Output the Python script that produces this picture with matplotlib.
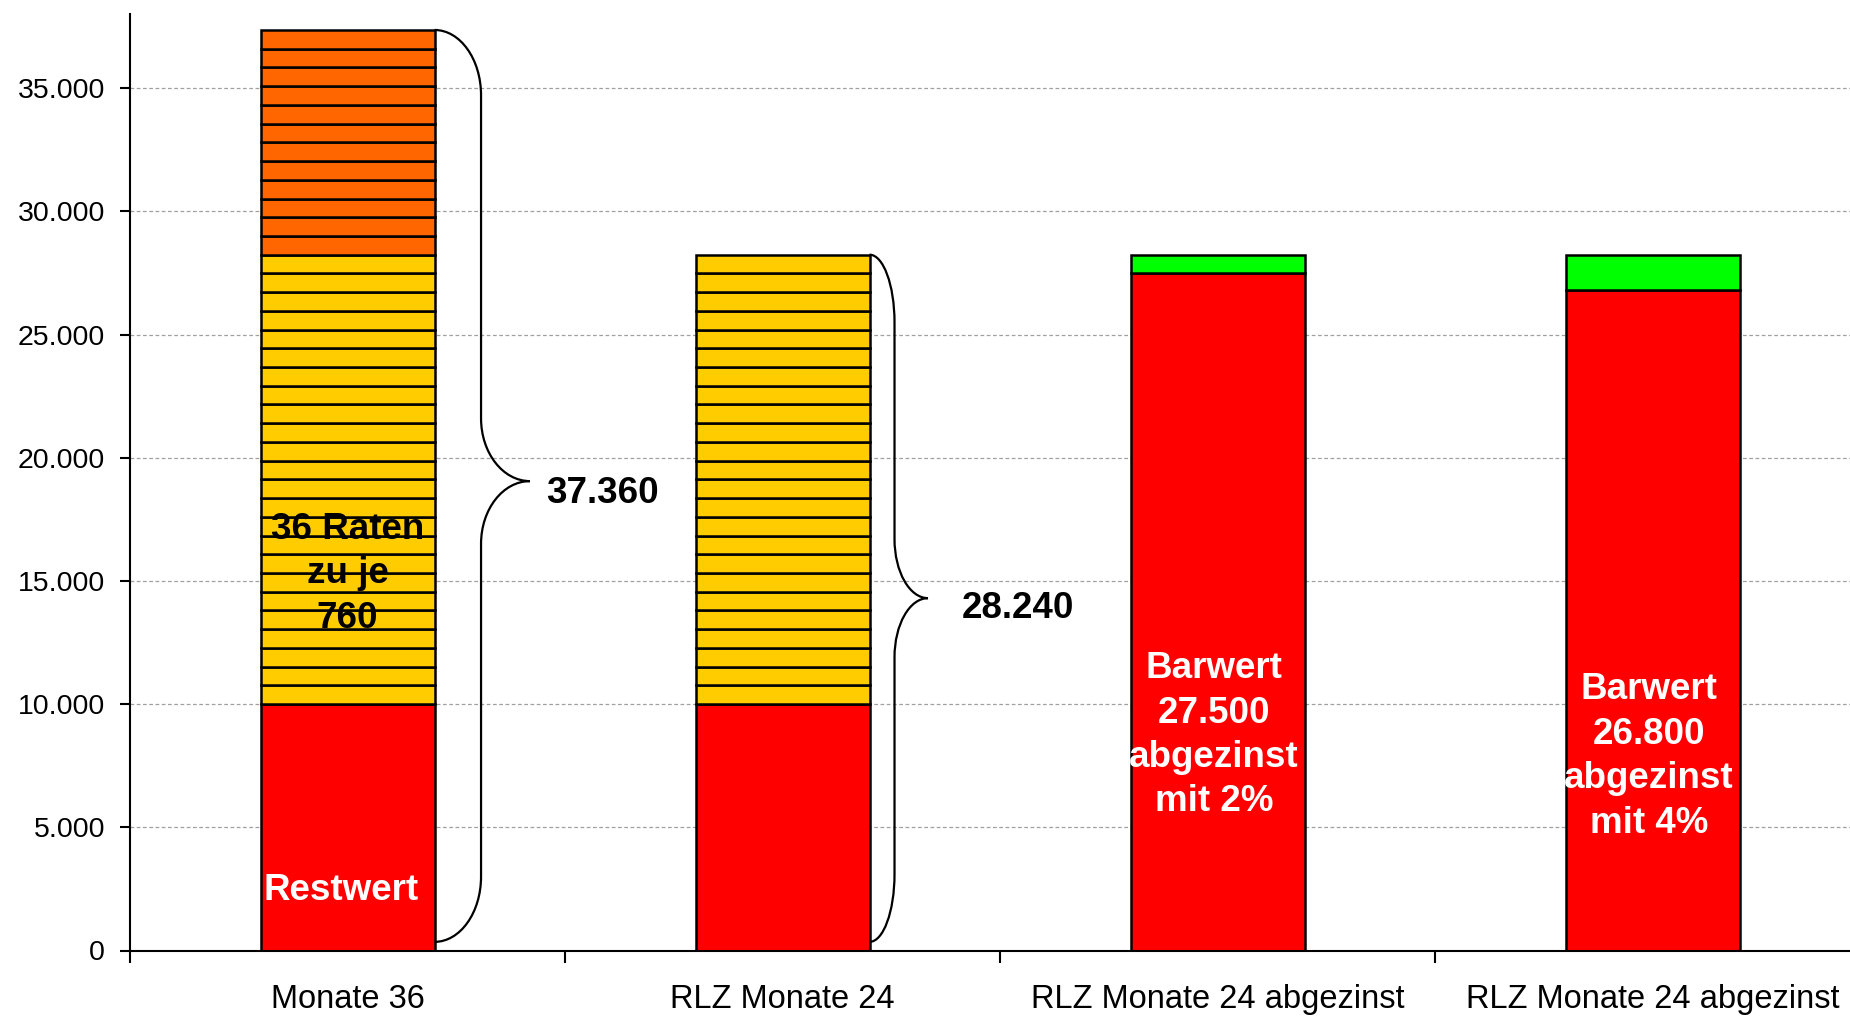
import matplotlib
matplotlib.use("Agg")
import matplotlib.pyplot as plt
from matplotlib.path import Path
from matplotlib.patches import PathPatch
from matplotlib.ticker import FuncFormatter, FixedLocator

# ---------------- data ----------------
categories = ["Monate 36", "RLZ Monate 24", "RLZ Monate 24 abgezinst", "RLZ Monate 24 abgezinst"]
restwert = [10000, 10000, 0, 0]
rate = 760
raten_gelb = [24, 24, 0, 0]
raten_orange = [12, 0, 0, 0]
barwert = [0, 0, 27500, 26800]
differenz = [0, 0, 740, 1440]
summen = [37360, 28240]
y_ticks = [0, 5000, 10000, 15000, 20000, 25000, 30000, 35000]

label_restwert = "Restwert"
label_raten = "36 Raten\nzu je\n760"
label_barwert = ["Barwert\n27.500\nabgezinst\nmit 2%", "Barwert\n26.800\nabgezinst\nmit 4%"]

# ---------------- style ----------------
RED = "#FF0000"
YELLOW = "#FFCC00"
ORANGE = "#FF6600"
GREEN = "#00FF00"
FONT = "Liberation Sans"
plt.rcParams["font.family"] = [FONT, "DejaVu Sans"]

W, H = 1850, 1019
fig = plt.figure(figsize=(W / 100, H / 100), dpi=100)
ax = fig.add_axes([130 / W, (H - 950.5) / H, 1740 / W, 936.3 / H])

x = list(range(len(categories)))
bw = 0.4
kw = dict(width=bw, edgecolor="black", linewidth=1.8, zorder=2)

for i in x:
    bottom = 0
    if restwert[i]:
        ax.bar(i, restwert[i], bottom=bottom, color=RED, **kw)
        bottom += restwert[i]
    for k in range(raten_gelb[i]):
        ax.bar(i, rate, bottom=bottom, color=YELLOW, **kw)
        bottom += rate
    for k in range(raten_orange[i]):
        ax.bar(i, rate, bottom=bottom, color=ORANGE, **kw)
        bottom += rate
    if barwert[i]:
        ax.bar(i, barwert[i], bottom=bottom, color=RED, **kw)
        bottom += barwert[i]
    if differenz[i]:
        ax.bar(i, differenz[i], bottom=bottom, color=GREEN, **kw)
        bottom += differenz[i]

# ---------------- axes ----------------
ax.set_xlim(-0.5, 3.5)
ax.set_ylim(0, 38000)
for s in ["top", "right"]:
    ax.spines[s].set_visible(False)
ax.spines["left"].set_linewidth(1.5)
ax.spines["bottom"].set_linewidth(1.5)

ax.yaxis.set_major_locator(FixedLocator(y_ticks))
ax.yaxis.set_major_formatter(FuncFormatter(lambda v, p: f"{int(v):,}".replace(",", ".")))
ax.tick_params(axis="y", which="major", direction="out", length=7, width=1.5,
               labelsize=20.5, pad=11)
ax.yaxis.grid(True, color="#a0a0a0", linestyle=(0, (3, 2)), linewidth=0.9, zorder=0)
ax.set_axisbelow(True)

ax.xaxis.set_major_locator(FixedLocator([-0.5, 0.5, 1.5, 2.5, 3.5]))
ax.xaxis.set_major_formatter(FuncFormatter(lambda v, p: ""))
ax.xaxis.set_minor_locator(FixedLocator(x))
ax.set_xticklabels(categories, minor=True)
ax.tick_params(axis="x", which="major", direction="out", length=8.5, width=1.5)
ax.tick_params(axis="x", which="minor", length=0, labelsize=23.5, pad=24)

# ---------------- braces ----------------
K = 0.5523


def brace(x0, x1, x2, ybot, ytop, r, rm, ymid):
    verts = [
        (x0, ytop),
        (x0 + K * (x1 - x0), ytop), (x1, ytop - r + K * r), (x1, ytop - r),
        (x1, ymid + rm),
        (x1, ymid + rm - K * rm), (x2 - K * (x2 - x1), ymid), (x2, ymid),
        (x2 - K * (x2 - x1), ymid), (x1, ymid - rm + K * rm), (x1, ymid - rm),
        (x1, ybot + r),
        (x1, ybot + r - K * r), (x0 + K * (x1 - x0), ybot), (x0, ybot),
    ]
    codes = [Path.MOVETO,
             Path.CURVE4, Path.CURVE4, Path.CURVE4,
             Path.LINETO,
             Path.CURVE4, Path.CURVE4, Path.CURVE4,
             Path.CURVE4, Path.CURVE4, Path.CURVE4,
             Path.LINETO,
             Path.CURVE4, Path.CURVE4, Path.CURVE4]
    ax.add_patch(PathPatch(Path(verts, codes), fill=False, edgecolor="black",
                           linewidth=1.6, zorder=4, clip_on=False))


brace(0 + bw / 2, 0.307, 0.4195, 350, summen[0], 2650, 2550, 19050)
brace(1 + bw / 2, 1.2575, 1.3345, 350, summen[1], 2750, 2400, 14300)


def fmt(v):
    return f"{int(v):,}".replace(",", ".")


ax.text(0.456, 18160, fmt(summen[0]), fontsize=26.5, fontweight="bold",
        ha="left", va="baseline", zorder=5)
ax.text(1.4115, 13490, fmt(summen[1]), fontsize=26.5, fontweight="bold",
        ha="left", va="baseline", zorder=5)

# ---------------- in-bar labels ----------------
SPACING = 1800


def lines(xc, y0, text, color, ha="center"):
    for j, ln in enumerate(text.split("\n")):
        ax.text(xc, y0 - j * SPACING, ln, fontsize=26.5, fontweight="bold",
                color=color, ha=ha, va="baseline", zorder=5)


ax.text(-bw / 2 + 0.006, 2050, label_restwert, fontsize=26.5, fontweight="bold",
        color="white", ha="left", va="baseline", zorder=5)
lines(0, 16700, label_raten, "black")
lines(2 - 0.008, 11047, label_barwert[0], "white")
lines(3 - 0.008, 10187, label_barwert[1], "white")

fig.savefig("out.png", dpi=100)
